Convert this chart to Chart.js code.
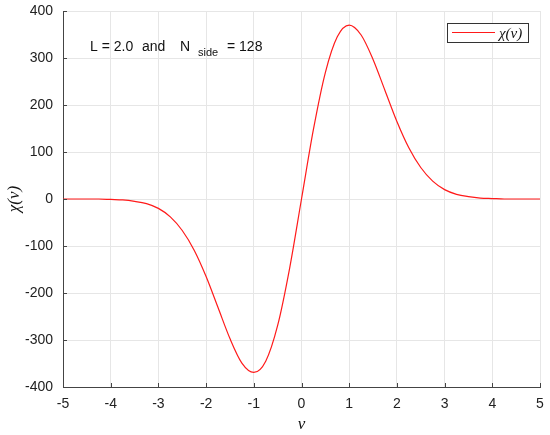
<!DOCTYPE html>
<html>
<head>
<meta charset="utf-8">
<script src="https://cdn.jsdelivr.net/npm/chart.js@4"></script>
<style>
  body { margin: 0; background: #fff; }
  #wrap { width: 550px; height: 435px; }
</style>
</head>
<body>
<div id="wrap"><canvas id="chart" width="550" height="435"></canvas></div>
<script>
// values
const nu = [-5, -4.75, -4.5, -4.25, -4, -3.75, -3.5, -3.25, -3, -2.75, -2.5, -2.25, -2, -1.75, -1.5, -1.25, -1, -0.75, -0.5, -0.25,
            0, 0.25, 0.5, 0.75, 1, 1.25, 1.5, 1.75, 2, 2.25, 2.5, 2.75, 3, 3.25, 3.5, 3.75, 4, 4.25, 4.5, 4.75, 5];
const chi = [0, 0, 0, 0, -1, -2, -5, -10, -20, -38, -67, -109, -165, -231, -297, -349, -369, -345, -269, -148,
             0, 148, 269, 345, 370, 349, 297, 231, 165, 109, 67, 38, 20, 10, 5, 2, 1, 0, 0, 0, 0];
const xTicks = [-5, -4, -3, -2, -1, 0, 1, 2, 3, 4, 5];
const yTicks = [-400, -300, -200, -100, 0, 100, 200, 300, 400];

const seriesLabel = 'χ(ν)';
const lineColor = '#ff1a1a';
const sans = '"Liberation Sans", Arial, sans-serif';
const serif = '"Liberation Serif", "DejaVu Serif", serif';

// inward tick marks, annotation and legend box
const extras = {
    id: 'extras',
    afterDraw(chart) {
        const ctx = chart.ctx;
        const area = chart.chartArea;
        const xs = chart.scales.x, ys = chart.scales.y;
        ctx.save();
        ctx.strokeStyle = '#444';
        ctx.lineWidth = 1;
        ctx.beginPath();
        xTicks.forEach(v => {
            const px = Math.round(xs.getPixelForValue(v)) + 0.5;
            ctx.moveTo(px, area.bottom);
            ctx.lineTo(px, area.bottom - 4);
        });
        yTicks.forEach(v => {
            const py = Math.round(ys.getPixelForValue(v)) + 0.5;
            ctx.moveTo(area.left, py);
            ctx.lineTo(area.left + 4, py);
        });
        ctx.stroke();

        // annotation
        ctx.fillStyle = '#111';
        ctx.textBaseline = 'alphabetic';
        ctx.textAlign = 'left';
        ctx.font = '14px ' + sans;
        ctx.fillText('L = 2.0', 90, 51);
        ctx.fillText('and', 142, 51);
        ctx.fillText('N', 180, 51);
        ctx.fillText('= 128', 227, 51);
        ctx.font = '11px ' + sans;
        ctx.fillText('side', 198, 56);

        // legend
        ctx.fillStyle = '#fff';
        ctx.fillRect(447.5, 23.5, 81, 19);
        ctx.strokeStyle = '#333';
        ctx.strokeRect(447.5, 23.5, 81, 19);
        ctx.strokeStyle = lineColor;
        ctx.beginPath();
        ctx.moveTo(452, 32.5);
        ctx.lineTo(495, 32.5);
        ctx.stroke();
        ctx.fillStyle = '#111';
        ctx.font = 'italic 15px ' + serif;
        ctx.textBaseline = 'middle';
        ctx.fillText(seriesLabel, 499, 34);
        ctx.restore();
    }
};

new Chart(document.getElementById('chart').getContext('2d'), {
    type: 'line',
    data: {
        datasets: [{
            label: seriesLabel,
            data: nu.map((v, i) => ({ x: v, y: chi[i] })),
            borderColor: lineColor,
            borderWidth: 1.2,
            pointRadius: 0,
            fill: false,
            cubicInterpolationMode: 'monotone'
        }]
    },
    options: {
        responsive: false,
        animation: false,
        layout: { padding: { left: 0, right: 10, top: 11, bottom: 0 } },
        plugins: {
            legend: { display: false },
            tooltip: { enabled: false }
        },
        scales: {
            x: {
                type: 'linear',
                min: -5,
                max: 5,
                afterFit: s => { s.height = 48; s.paddingLeft = 0; s.paddingRight = 0; },
                afterBuildTicks: s => { s.ticks = xTicks.map(v => ({ value: v })); },
                grid: { color: '#e6e6e6', drawTicks: false },
                border: { color: '#444', width: 1 },
                ticks: { color: '#222', padding: 9, font: { family: sans, size: 14 } },
                title: {
                    display: true,
                    text: 'ν',
                    color: '#111',
                    padding: { top: 0, bottom: 0 },
                    font: { family: serif, size: 17, style: 'italic', lineHeight: 1.2 }
                }
            },
            y: {
                type: 'linear',
                min: -400,
                max: 400,
                afterFit: s => { s.width = 63; s.paddingTop = 0; s.paddingBottom = 0; },
                afterBuildTicks: s => { s.ticks = yTicks.map(v => ({ value: v })); },
                grid: { color: '#e6e6e6', drawTicks: false },
                border: { color: '#444', width: 1 },
                ticks: { color: '#222', padding: 10, font: { family: sans, size: 14 } },
                title: {
                    display: true,
                    text: seriesLabel,
                    color: '#111',
                    padding: { top: 4, bottom: 0 },
                    font: { family: serif, size: 17, style: 'italic', lineHeight: 1.2 }
                }
            }
        }
    },
    plugins: [extras]
});
</script>
</body>
</html>
